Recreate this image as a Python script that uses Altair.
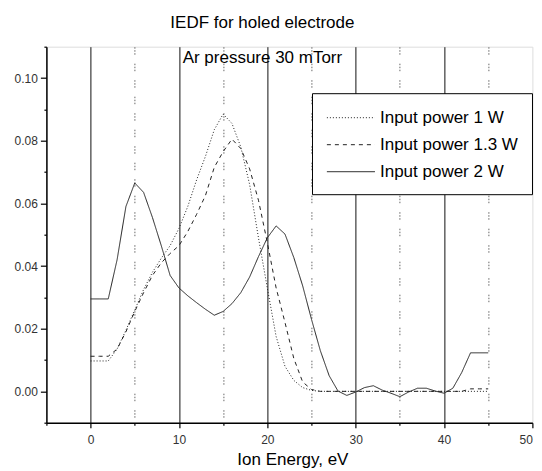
import altair as alt
import pandas as pd

# ---- data ----
energy = list(range(0, 46))

iedf_1w = [0.0097, 0.0097, 0.0097, 0.0135, 0.0195, 0.026, 0.0325, 0.038, 0.0425, 0.0465,
           0.052, 0.059, 0.0675, 0.075, 0.0835, 0.0885, 0.0855, 0.078, 0.066, 0.049,
           0.033, 0.0175, 0.008, 0.0035, 0.0012, 0.0003, 0, 0, 0, 0,
           0, 0, 0, 0, 0, 0, 0, 0, 0, 0,
           0, 0, 0, 0, 0, 0]

iedf_13w = [0.0112, 0.0112, 0.0112, 0.0135, 0.019, 0.0255, 0.0315, 0.037, 0.041, 0.044,
            0.0465, 0.051, 0.0565, 0.0625, 0.0715, 0.0765, 0.0805, 0.0775, 0.071, 0.061,
            0.0475, 0.033, 0.022, 0.0105, 0.003, 0.0006, 0, 0, 0, 0,
            0, 0, 0, 0, 0, 0, 0, 0, 0, 0,
            0, 0, 0, 0.0008, 0.0008, 0.0008]

iedf_2w = [0.0295, 0.0295, 0.0295, 0.042, 0.059, 0.0665, 0.0635, 0.0555, 0.0465, 0.037,
           0.033, 0.0305, 0.0283, 0.0262, 0.0243, 0.0255, 0.028, 0.0315, 0.0365, 0.043,
           0.049, 0.0528, 0.0502, 0.0427, 0.0337, 0.023, 0.013, 0.005, 0.0001, -0.0013,
           -0.0002, 0.0012, 0.0018, 0.0004, -0.0006, -0.0017, -0.0002, 0.001, 0.001, 0.0001,
           -0.0006, 0.001, 0.006, 0.0123, 0.0123, 0.0123]

series_names = ["Input power 1 W", "Input power 1.3 W", "Input power 2 W"]
series_values = [iedf_1w, iedf_13w, iedf_2w]

x_ticks = [-5, 0, 5, 10, 15, 20, 25, 30, 35, 40, 45, 50]
y_ticks = [round(-0.01 + 0.01 * k, 2) for k in range(13)]

rows = []
for name, vals in zip(series_names, series_values):
    for e, v in zip(energy, vals):
        rows.append({"energy": e, "iedf": v, "series": name})
df = pd.DataFrame(rows)

FONT = "Liberation Sans"

x_axis = alt.Axis(
    values=x_ticks,
    title="Ion Energy, eV",
    titleFont=FONT, titleFontSize=17, titleFontWeight="normal", titleColor="black",
    titleBaseline="alphabetic", titleY=42, titleX=246,
    labelExpr="datum.value % 10 == 0 && datum.value >= 0 ? format(datum.value, 'd') : ''",
    labelFont=FONT, labelFontSize=12, labelColor="#333", labelPadding=7,
    labelFlush=True, labelOverlap=False,
    domainColor="black", domainWidth=1.5,
    tickColor="black", tickWidth=1.2,
    tickSize={"condition": {"test": "datum.value % 10 == 0", "value": 5}, "value": 2.5},
    grid=True,
    gridColor={"condition": {"test": "datum.value % 10 == 0", "value": "#111"}, "value": "#666"},
    gridDash={"condition": {"test": "datum.value % 10 == 0", "value": []},
              "value": [1.5, 1.5, 1.5, 1.5, 1.5, 9]},
    gridOpacity={"condition": {"test": "datum.value < 0 || datum.value >= 50", "value": 0}, "value": 1},
    gridWidth=1,
)

y_axis = alt.Axis(
    values=y_ticks,
    title=None,
    labelExpr="(round(datum.value*100) % 2 == 0) && datum.value > -0.005 && datum.value < 0.105 ? format(datum.value, '.2f') : ''",
    labelFont=FONT, labelFontSize=12, labelColor="#333", labelPadding=3,
    labelOverlap=False,
    domainColor="black", domainWidth=1.5,
    tickColor="black", tickWidth=1.2,
    tickSize={"condition": {"test": "(round(datum.value*100) % 2 == 0) && datum.value > -0.005 && datum.value < 0.105", "value": 6}, "value": 2.5},
    grid=False,
)

legend = alt.Legend(
    title=None,
    orient="none", legendX=265.6, legendY=46.5,
    fillColor="white", strokeColor="black",
    padding=14, rowPadding=8,
    symbolType="M-1,0H4", symbolSize=369,
    symbolStrokeColor="#222", symbolFillColor="transparent", symbolStrokeWidth=1,
    labelFont=FONT, labelFontSize=17, labelColor="black", labelOffset=33,
    labelLimit=300,
)

chart = alt.Chart(df).mark_line(strokeWidth=1, color="#222").encode(
    x=alt.X("energy:Q", scale=alt.Scale(domain=[-5, 50], nice=False, zero=False), axis=x_axis),
    y=alt.Y("iedf:Q", scale=alt.Scale(domain=[-0.01, 0.11], nice=False, zero=False), axis=y_axis),
    strokeDash=alt.StrokeDash("series:N",
                              scale=alt.Scale(domain=series_names, range=[[1, 2], [4, 4], [1, 0]]),
                              legend=legend),
    detail="series:N",
).properties(
    width=486, height=376,
    title=alt.TitleParams(
        text=["IEDF for holed electrode", "Ar pressure 30 mTorr"],
        font=FONT, fontSize=17, fontWeight="normal", color="black",
        anchor="middle", frame="group", dx=-27, dy=57.5, offset=18,
        baseline="alphabetic", lineHeight=35,
    ),
    autosize=alt.AutoSizeParams(type="none"),
    padding={"left": 38.4, "top": 38.7, "right": 1.5, "bottom": 47},
).configure_view(stroke=None).configure(background="white")

chart.save("out.html", embed_options={"renderer": "svg", "actions": False})
